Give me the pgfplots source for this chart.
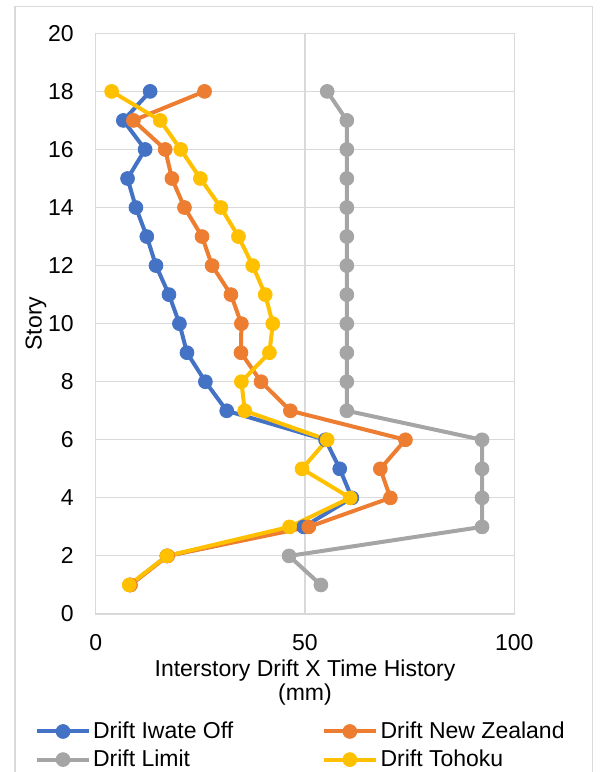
\documentclass[border=0pt]{standalone}
\usepackage{fontspec}
\setmainfont{Liberation Sans}
\usepackage{pgfplots}
\usepackage{pgfplotstable}
\pgfplotsset{compat=1.18}
\definecolor{cIwate}{HTML}{4472C4}
\definecolor{cNZ}{HTML}{ED7D31}
\definecolor{cLimit}{HTML}{A5A5A5}
\definecolor{cTohoku}{HTML}{FFC000}
\definecolor{gridgray}{HTML}{D9D9D9}

% drift (mm) against story
\pgfplotstableread{
drift story
8.2 1
17.0 2
49.7 3
61.2 4
58.3 5
54.9 6
31.3 7
26.2 8
21.8 9
20.0 10
17.5 11
14.4 12
12.2 13
9.6 14
7.6 15
11.8 16
6.6 17
13.0 18
}\iwate
\pgfplotstableread{
drift story
8.3 1
17.2 2
50.9 3
70.4 4
68.0 5
74.0 6
46.5 7
39.5 8
34.7 9
34.8 10
32.3 11
27.8 12
25.4 13
21.2 14
18.2 15
16.6 16
9.0 17
26.0 18
}\newzealand
\pgfplotstableread{
drift story
53.8 1
46.2 2
92.3 3
92.3 4
92.3 5
92.3 6
60.0 7
60.0 8
60.0 9
60.0 10
60.0 11
60.0 12
60.0 13
60.0 14
60.0 15
60.0 16
60.0 17
55.3 18
}\limit
\pgfplotstableread{
drift story
8.0 1
17.0 2
46.3 3
60.8 4
49.3 5
55.3 6
35.6 7
34.8 8
41.5 9
42.3 10
40.5 11
37.5 12
34.1 13
29.9 14
25.0 15
20.3 16
15.4 17
3.8 18
}\tohoku

\begin{document}
\begin{tikzpicture}
\fontsize{17.25}{18.5}\selectfont
\path[use as bounding box] (0,0) rectangle (450.75pt,579pt);
\draw[gridgray, line width=1.1pt] (11.25pt,-5pt) rectangle (444.2pt,574pt);
\begin{axis}[
  at={(71.8pt,118.5pt)}, anchor=south west,
  scale only axis, width=313.9pt, height=435.5pt,
  xmin=0, xmax=100, ymin=0, ymax=20,
  xtick={0,50,100}, ytick={0,2,...,20},
  grid=major, major grid style={gridgray, line width=0.8pt},
  axis line style={gridgray, line width=0.8pt},
  major tick length=0pt,
  /pgf/number format/assume math mode=true,
  tick label style={font=\fontsize{17.25}{18.5}\selectfont, inner sep=0pt},
  yticklabel style={anchor=east},
  yticklabel shift=16.3pt,
  xticklabel style={anchor=north},
  xticklabel shift=15pt,
  ylabel={Story},
  ylabel style={at={(axis description cs:-0.1426,0.5)}, anchor=center, inner sep=0pt, font=\fontsize{17.25}{18.5}\selectfont},
  xlabel={Interstory Drift X Time History\\(mm)},
  xlabel style={at={(axis description cs:0.5,-0.0792)}, anchor=north, align=center, inner sep=0pt, font=\fontsize{17.25}{18}\selectfont},
  legend columns=2,
  legend cell align=left,
  legend style={draw=none, fill=none, at={(axis description cs:-0.145,-0.185)}, anchor=north west,
    inner sep=0pt, outer sep=0pt, nodes={inner sep=0pt}, row sep=6pt,
    font=\fontsize{17.25}{18.5}\selectfont,
    /tikz/column 1/.style={column sep=1.5pt},
    /tikz/column 2/.style={column sep=66.5pt},
    /tikz/column 3/.style={column sep=2pt}},
  legend image code/.code={\draw[mark repeat=2,mark phase=2,#1] plot coordinates {(0pt,0pt)(19.5pt,0pt)(39pt,0pt)};},
  every axis plot/.append style={line width=3pt, mark=*, mark size=5.2pt},
]
\addplot[cIwate, mark options={fill=cIwate, draw=cIwate, line width=0.6pt}] table[x=drift, y=story] {\iwate};
\addlegendentry{Drift Iwate Off}
\addplot[cNZ, mark options={fill=cNZ, draw=cNZ, line width=0.6pt}] table[x=drift, y=story] {\newzealand};
\addlegendentry{Drift New Zealand}
\addplot[cLimit, mark options={fill=cLimit, draw=cLimit, line width=0.6pt}] table[x=drift, y=story] {\limit};
\addlegendentry{Drift Limit}
\addplot[cTohoku, mark options={fill=cTohoku, draw=cTohoku, line width=0.6pt}] table[x=drift, y=story] {\tohoku};
\addlegendentry{Drift Tohoku}
\end{axis}
\end{tikzpicture}
\end{document}
